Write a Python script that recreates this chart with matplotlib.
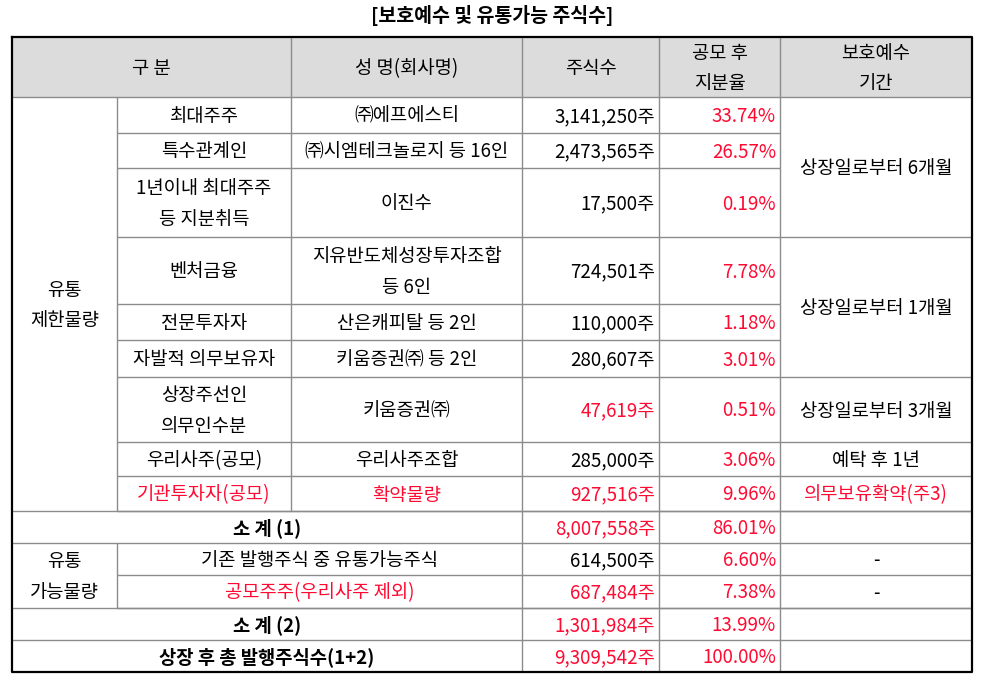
import matplotlib.pyplot as plt

plt.rcParams['font.family'] = ['Noto Sans CJK KR', 'DejaVu Sans']

# data
title = '[보호예수 및 유통가능 주식수]'
header = ['구 분', '성 명(회사명)', '주식수', '공모 후\n지분율', '보호예수\n기간']

categories = ['최대주주', '특수관계인', '1년이내 최대주주\n등 지분취득', '벤처금융', '전문투자자',
              '자발적 의무보유자', '상장주선인\n의무인수분', '우리사주(공모)', '기관투자자(공모)']
holders = ['㈜에프에스티', '㈜시엠테크놀로지 등 16인', '이진수', '지유반도체성장투자조합\n등 6인',
           '산은캐피탈 등 2인', '키움증권㈜ 등 2인', '키움증권㈜', '우리사주조합', '확약물량']
shares = [3141250, 2473565, 17500, 724501, 110000, 280607, 47619, 285000, 927516]
ratios = [33.74, 26.57, 0.19, 7.78, 1.18, 3.01, 0.51, 3.06, 9.96]
periods = ['상장일로부터 6개월', '상장일로부터 1개월', '상장일로부터 3개월', '예탁 후 1년', '의무보유확약(주3)']
period_spans = [(0, 3), (3, 6), (6, 7), (7, 8), (8, 9)]
red_rows = [8]          # whole row in red
red_shares = [6, 8]     # share count in red

float_labels = ['기존 발행주식 중 유통가능주식', '공모주주(우리사주 제외)']
float_shares = [614500, 687484]
float_ratios = [6.60, 7.38]

sub1_shares, sub1_ratio = 8007558, 86.01
sub2_shares, sub2_ratio = 1301984, 13.99
total_shares, total_ratio = 9309542, 100.00

# layout (pixels)
W, H = 983, 681
xs = [12, 117, 291, 522, 659, 780, 972]
ys = [37, 97, 133, 168, 237, 304, 340, 377, 442, 476, 511, 543, 575, 608, 640, 672]
RED = '#ff0a32'
GRID = '#8c8c8c'
FS = 13.5

fig = plt.figure(figsize=(W / 100, H / 100), dpi=100)
ax = fig.add_axes([0, 0, 1, 1])
ax.set_xlim(0, W)
ax.set_ylim(H, 0)
ax.axis('off')


def hline(y, x0, x1, color=GRID, lw=1.0):
    ax.plot([x0, x1], [y, y], color=color, lw=lw, solid_capstyle='butt')


def vline(x, y0, y1, color=GRID, lw=1.0):
    ax.plot([x, x], [y0, y1], color=color, lw=lw, solid_capstyle='butt')


def cell(x0, x1, y0, y1, s, color='black', ha='center', bold=False):
    if ha == 'center':
        x = (x0 + x1) / 2
    else:
        x = x1 - 4
    ax.text(x, (y0 + y1) / 2 + 1.5, s, ha=ha, va='center', fontsize=FS, color=color,
            fontweight='bold' if bold else 'normal', linespacing=1.62)


ax.text(W / 2 + 1, 15, title, ha='center', va='center', fontsize=FS + 0.5, fontweight='bold')

# header
ax.fill_between([xs[0], xs[-1]], ys[0], ys[1], color='#dcdcdc', lw=0)
cell(xs[0], xs[2], ys[0], ys[1], header[0])
for j in range(1, 5):
    cell(xs[j + 1], xs[j + 2], ys[0], ys[1], header[j])

# restricted rows
n = len(categories)
for i in range(n):
    y0, y1 = ys[i + 1], ys[i + 2]
    c = RED if i in red_rows else 'black'
    cell(xs[1], xs[2], y0, y1, categories[i], color=c)
    cell(xs[2], xs[3], y0, y1, holders[i], color=c)
    cell(xs[3], xs[4], y0, y1, f'{shares[i]:,}주',
         color=RED if i in red_shares else 'black', ha='right')
    cell(xs[4], xs[5], y0, y1, f'{ratios[i]:.2f}%', color=RED, ha='right')
    hline(y1, xs[1], xs[5])
for p, (a, b) in zip(periods, period_spans):
    c = RED if a in red_rows else 'black'
    cell(xs[5], xs[6], ys[a + 1], ys[b + 1], p, color=c)
    hline(ys[b + 1], xs[5], xs[6])
cell(xs[0], xs[1], ys[1], ys[n + 1], '유통\n제한물량')
vline(xs[1], ys[1], ys[n + 1])

# subtotal 1
k = n + 1
cell(xs[0], xs[3], ys[k], ys[k + 1], '소 계 (1)', bold=True)
cell(xs[3], xs[4], ys[k], ys[k + 1], f'{sub1_shares:,}주', color=RED, ha='right')
cell(xs[4], xs[5], ys[k], ys[k + 1], f'{sub1_ratio:.2f}%', color=RED, ha='right')
hline(ys[k], xs[0], xs[6])
hline(ys[k + 1], xs[0], xs[6])

# tradable rows
k += 1
for i in range(len(float_labels)):
    y0, y1 = ys[k + i], ys[k + i + 1]
    c = RED if i == 1 else 'black'
    cell(xs[1], xs[3], y0, y1, float_labels[i], color=c)
    cell(xs[3], xs[4], y0, y1, f'{float_shares[i]:,}주', color=c, ha='right')
    cell(xs[4], xs[5], y0, y1, f'{float_ratios[i]:.2f}%', color=RED, ha='right')
    cell(xs[5], xs[6], y0, y1, '-')
    hline(y1, xs[1], xs[6])
cell(xs[0], xs[1], ys[k], ys[k + 2], '유통\n가능물량')
vline(xs[1], ys[k], ys[k + 2])
k += 2
hline(ys[k], xs[0], xs[6])

# subtotal 2 and total
cell(xs[0], xs[3], ys[k], ys[k + 1], '소 계 (2)', bold=True)
cell(xs[3], xs[4], ys[k], ys[k + 1], f'{sub2_shares:,}주', color=RED, ha='right')
cell(xs[4], xs[5], ys[k], ys[k + 1], f'{sub2_ratio:.2f}%', color=RED, ha='right')
hline(ys[k + 1], xs[0], xs[6])
cell(xs[0], xs[3], ys[k + 1], ys[k + 2], '상장 후 총 발행주식수(1+2)', bold=True)
cell(xs[3], xs[4], ys[k + 1], ys[k + 2], f'{total_shares:,}주', color=RED, ha='right')
cell(xs[4], xs[5], ys[k + 1], ys[k + 2], f'{total_ratio:.2f}%', color=RED, ha='right')

# column lines
vline(xs[2], ys[0], ys[n + 1])
for x in xs[3:6]:
    vline(x, ys[0], ys[-1])
hline(ys[1], xs[0], xs[6])

# outer border
ax.plot([xs[0], xs[6], xs[6], xs[0], xs[0]], [ys[0], ys[0], ys[-1], ys[-1], ys[0]],
        color='black', lw=1.6)

fig.savefig('out.png', dpi=100)
